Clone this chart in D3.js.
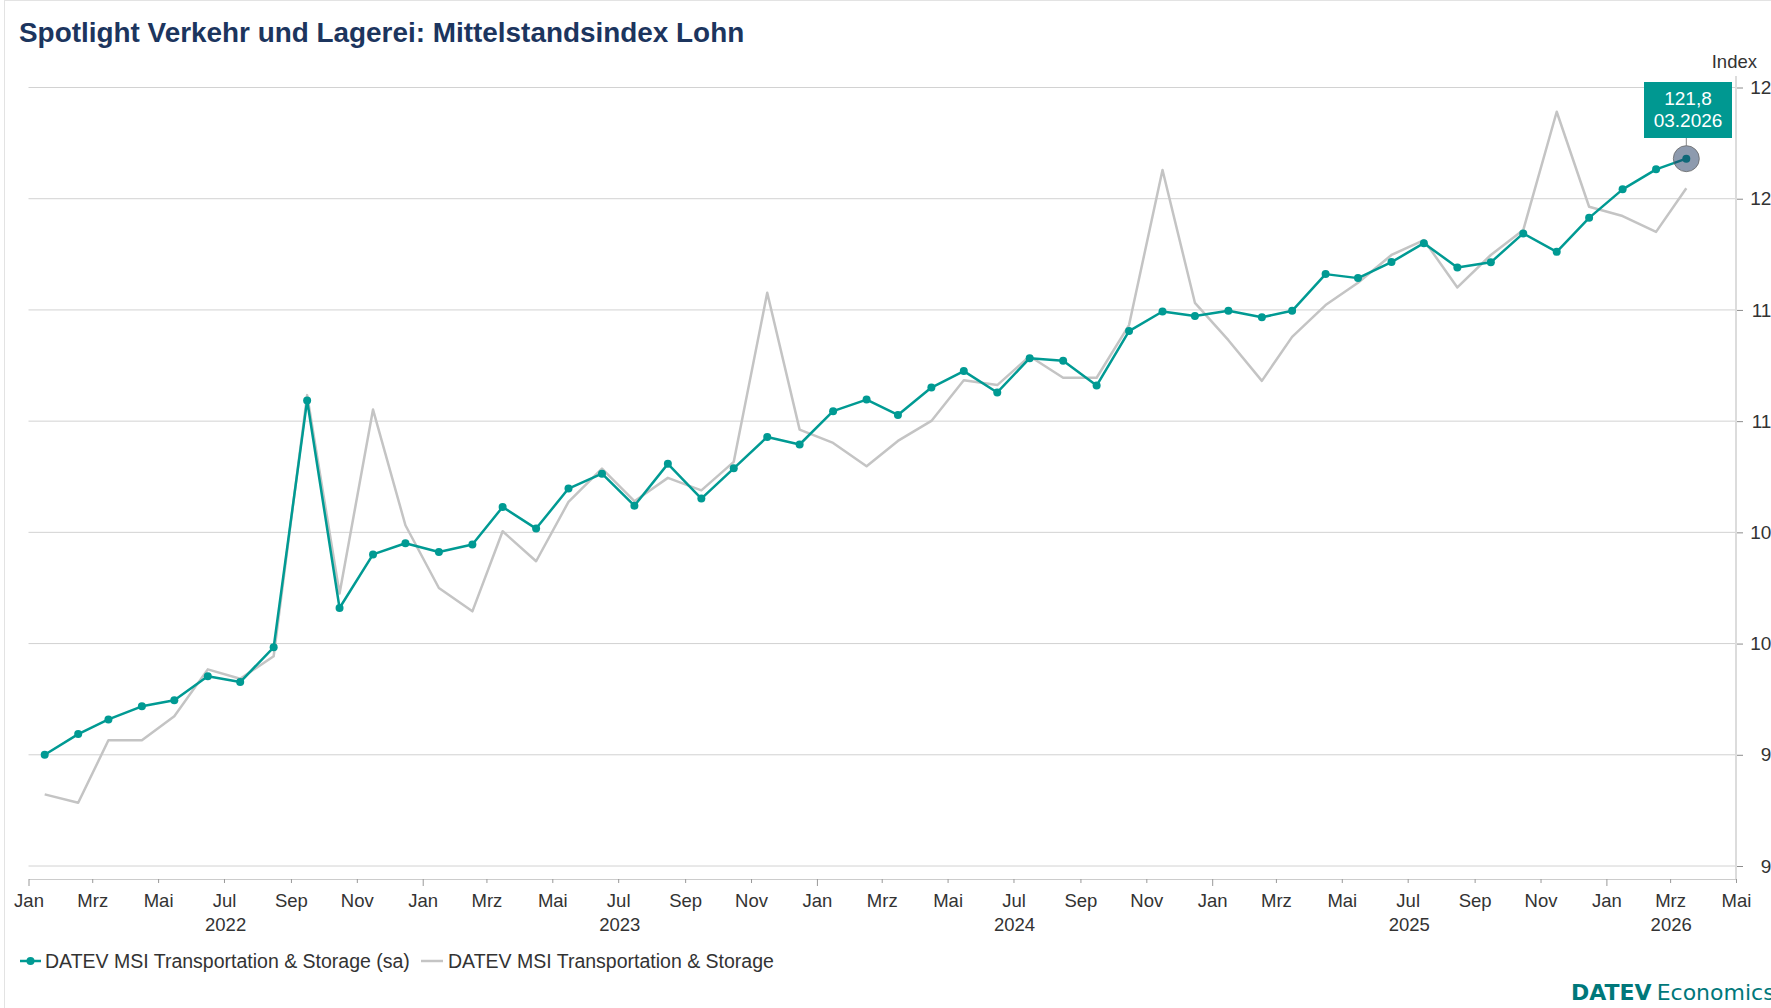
<!DOCTYPE html>
<html>
<head>
<meta charset="utf-8">
<script src="https://cdn.jsdelivr.net/npm/d3@7"></script>
<style>
  html, body { margin: 0; padding: 0; background: #ffffff; overflow: hidden; }
  svg { display: block; font-family: "Liberation Sans", Arial, sans-serif; }
</style>
</head>
<body>
<div id="chart"></div>
<script>
// chart data
const START_MONTH = "2022-01";
const END_MONTH = "2026-03";
const SERIES_SA_NAME = "DATEV MSI Transportation & Storage (sa)";
const SERIES_RAW_NAME = "DATEV MSI Transportation & Storage";
const SA_VALUES = [
  95.0, 95.93, 96.59, 97.18, 97.45, 98.53, 98.27, 99.83, 110.93, 101.6, 104.01, 104.51,
  104.12, 104.45, 106.14, 105.17, 106.97, 107.64, 106.2, 108.08, 106.52, 107.88, 109.29, 108.95,
  110.45, 110.97, 110.28, 111.51, 112.25, 111.29, 112.83, 112.71, 111.6, 114.05, 114.93, 114.73,
  114.96, 114.67, 114.96, 116.61, 116.43, 117.15, 118.0, 116.91, 117.14, 118.44, 117.61, 119.14,
  120.42, 121.32, 121.8
];
const RAW_VALUES = [
  93.22, 92.84, 95.65, 95.65, 96.73, 98.84, 98.42, 99.43, 111.17, 102.25, 110.52, 105.32,
  102.5, 101.45, 105.05, 103.7, 106.37, 107.87, 106.4, 107.45, 106.89, 108.17, 115.77, 109.62,
  109.02, 107.97, 109.11, 110.01, 111.84, 111.62, 112.92, 111.95, 111.95, 114.32, 121.29, 115.32,
  113.64, 111.81, 113.79, 115.22, 116.22, 117.47, 118.14, 116.01, 117.47, 118.59, 123.91, 119.64,
  119.22, 118.51, 120.47
];
const Y_TICKS = [90, 95, 100, 105, 110, 115, 120, 125];
const MONTH_NAMES = ["Jan", "Feb", "Mrz", "Apr", "Mai", "Jun", "Jul", "Aug", "Sep", "Okt", "Nov", "Dez"];
const YEARS = [2022, 2023, 2024, 2025, 2026];

// frame
const FRAME_WIDTH = 1771;
const FRAME_HEIGHT = 1008;
const PLOT = {left: 28.5, right: 1736, top: 87.5, bottom: 866};
const TEAL = "#009a93";
const GREY = "#c4c4c4";
const TEXT = "#333333";
const FONT = "'Liberation Sans', Arial, sans-serif";

const FRAME = d3.select("#chart")
  .append("svg")
    .attr("width", FRAME_WIDTH)
    .attr("height", FRAME_HEIGHT);

// outer border of the card
FRAME.append("rect")
  .attr("x", 4.5).attr("y", 0.5)
  .attr("width", FRAME_WIDTH + 20).attr("height", FRAME_HEIGHT + 20)
  .attr("fill", "none").attr("stroke", "#e3e3e3");

// title
FRAME.append("text")
  .attr("x", 19).attr("y", 42)
  .attr("fill", "#1c355e")
  .attr("font-size", 27.9).attr("font-weight", "bold")
  .text("Spotlight Verkehr und Lagerei: Mittelstandsindex Lohn");

// build points, dated mid-month
const parseMonth = d3.timeParse("%Y-%m");
const months = d3.timeMonth.range(parseMonth(START_MONTH), d3.timeMonth.offset(parseMonth(END_MONTH), 1));
const midMonth = m => new Date(m.getFullYear(), m.getMonth(), 16);
const saData = months.map((m, i) => ({date: midMonth(m), month: m, value: SA_VALUES[i]}));
const rawData = months.map((m, i) => ({date: midMonth(m), month: m, value: RAW_VALUES[i]}));

// scales
const X_SCALE = d3.scaleTime()
  .domain([parseMonth(START_MONTH), d3.timeMonth.offset(parseMonth(END_MONTH), 2)])
  .range([PLOT.left, PLOT.right]);

const Y_SCALE = d3.scaleLinear()
  .domain([90, 125])
  .range([PLOT.bottom, PLOT.top]);

// horizontal grid
FRAME.append("g")
  .selectAll("line")
  .data(Y_TICKS)
  .enter().append("line")
    .attr("x1", PLOT.left).attr("x2", PLOT.right)
    .attr("y1", d => Y_SCALE(d)).attr("y2", d => Y_SCALE(d))
    .attr("stroke", "#d2d2d2").attr("stroke-width", 1);

// right y-axis (labels are right aligned and run past the card edge, as in the source)
const yAxis = FRAME.append("g")
  .attr("transform", "translate(" + PLOT.right + ",0)")
  .call(d3.axisRight(Y_SCALE).tickValues(Y_TICKS).tickSize(7).tickPadding(9));
yAxis.select(".domain").remove();
yAxis.selectAll(".tick line").attr("stroke", "#8c8c8c").attr("stroke-width", 1);
yAxis.selectAll(".tick text")
  .attr("x", 46)
  .attr("text-anchor", "end")
  .attr("fill", TEXT).attr("font-size", 19)
  .attr("font-family", FONT);

FRAME.append("line")
  .attr("x1", PLOT.right).attr("x2", PLOT.right)
  .attr("y1", 76).attr("y2", 879)
  .attr("stroke", "#dcdcdc").attr("stroke-width", 2);

FRAME.append("text")
  .attr("x", 1757).attr("y", 68)
  .attr("text-anchor", "end")
  .attr("fill", TEXT).attr("font-size", 18.5)
  .text("Index");

// bottom x-axis, a label every two months
const AXIS_Y = 879;
const xTicks = d3.timeMonth.every(2).range(X_SCALE.domain()[0], d3.timeDay.offset(X_SCALE.domain()[1], 1));
const xAxis = FRAME.append("g")
  .attr("transform", "translate(0," + AXIS_Y + ")")
  .call(d3.axisBottom(X_SCALE)
    .tickValues(xTicks)
    .tickSize(0)
    .tickPadding(15)
    .tickFormat(d => MONTH_NAMES[d.getMonth()]));
xAxis.select(".domain").attr("stroke", "#cccccc").attr("stroke-width", 1);
xAxis.selectAll(".tick line")
  .attr("stroke", "#999999")
  .attr("y2", d => d.getMonth() === 0 ? 7 : 4);
xAxis.selectAll(".tick text")
  .attr("fill", TEXT).attr("font-size", 18.5)
  .attr("font-family", FONT);

// year labels centred on the visible part of each year
const axisEnd = X_SCALE.domain()[1];
FRAME.append("g")
  .selectAll("text")
  .data(YEARS)
  .enter().append("text")
    .attr("x", d => {
      const a = X_SCALE(new Date(d, 0, 1));
      const b = X_SCALE(d3.min([new Date(d + 1, 0, 1), axisEnd]));
      return (a + b) / 2;
    })
    .attr("y", 931)
    .attr("text-anchor", "middle")
    .attr("fill", TEXT).attr("font-size", 18.5)
    .text(d => d);

// lines
const line = d3.line()
  .x(d => X_SCALE(d.date))
  .y(d => Y_SCALE(d.value));

FRAME.append("path")
  .datum(rawData)
  .attr("d", line)
  .attr("fill", "none").attr("stroke", GREY)
  .attr("stroke-width", 2.5).attr("stroke-linejoin", "round");

FRAME.append("path")
  .datum(saData)
  .attr("d", line)
  .attr("fill", "none").attr("stroke", TEAL)
  .attr("stroke-width", 2.5).attr("stroke-linejoin", "round");

FRAME.selectAll(".point")
  .data(saData)
  .enter().append("circle")
    .attr("class", "point")
    .attr("cx", d => X_SCALE(d.date))
    .attr("cy", d => Y_SCALE(d.value))
    .attr("r", 4)
    .attr("fill", TEAL);

// highlighted last point with tooltip
const last = saData[saData.length - 1];
const lx = X_SCALE(last.date);
const ly = Y_SCALE(last.value);
const deFormat = d3.formatLocale({decimal: ",", thousands: ".", grouping: [3], currency: ["", " €"]}).format(".1f");

const BOX = {x: 1644, y: 82, w: 88, h: 56};
FRAME.append("line")
  .attr("x1", lx).attr("x2", lx)
  .attr("y1", BOX.y + BOX.h).attr("y2", ly - 13)
  .attr("stroke", "#8a8a8a").attr("stroke-width", 1);

FRAME.append("circle")
  .attr("cx", lx).attr("cy", ly).attr("r", 13)
  .attr("fill", "#1c355e").attr("fill-opacity", 0.5)
  .attr("stroke", "#666666").attr("stroke-opacity", 0.8).attr("stroke-width", 1);

FRAME.append("rect")
  .attr("x", BOX.x).attr("y", BOX.y)
  .attr("width", BOX.w).attr("height", BOX.h)
  .attr("fill", "#009891");

FRAME.append("text")
  .attr("x", BOX.x + BOX.w / 2).attr("y", BOX.y + 23)
  .attr("text-anchor", "middle")
  .attr("fill", "#ffffff").attr("font-size", 19)
  .text(deFormat(last.value));

FRAME.append("text")
  .attr("x", BOX.x + BOX.w / 2).attr("y", BOX.y + 45)
  .attr("text-anchor", "middle")
  .attr("fill", "#ffffff").attr("font-size", 19)
  .text(d3.timeFormat("%m.%Y")(last.month));

// legend
const LEGEND_Y = 961;
const legend = FRAME.append("g");
legend.append("line")
  .attr("x1", 20).attr("x2", 41).attr("y1", LEGEND_Y).attr("y2", LEGEND_Y)
  .attr("stroke", TEAL).attr("stroke-width", 2.5);
legend.append("circle")
  .attr("cx", 30.5).attr("cy", LEGEND_Y).attr("r", 4).attr("fill", TEAL);
legend.append("text")
  .attr("x", 45).attr("y", LEGEND_Y + 7)
  .attr("fill", TEXT).attr("font-size", 19.5)
  .text(SERIES_SA_NAME);
legend.append("line")
  .attr("x1", 421).attr("x2", 443).attr("y1", LEGEND_Y).attr("y2", LEGEND_Y)
  .attr("stroke", GREY).attr("stroke-width", 2.5);
legend.append("text")
  .attr("x", 448).attr("y", LEGEND_Y + 7)
  .attr("fill", TEXT).attr("font-size", 19.5)
  .text(SERIES_RAW_NAME);

// brand mark
const brand = FRAME.append("text")
  .attr("x", 1571).attr("y", 1000)
  .attr("fill", "#00787a").attr("font-size", 22)
  .attr("font-family", "'DejaVu Sans', sans-serif");
brand.append("tspan").attr("font-weight", "bold").text("DATEV");
brand.append("tspan").attr("dx", 5).text("Economics");
</script>
</body>
</html>
